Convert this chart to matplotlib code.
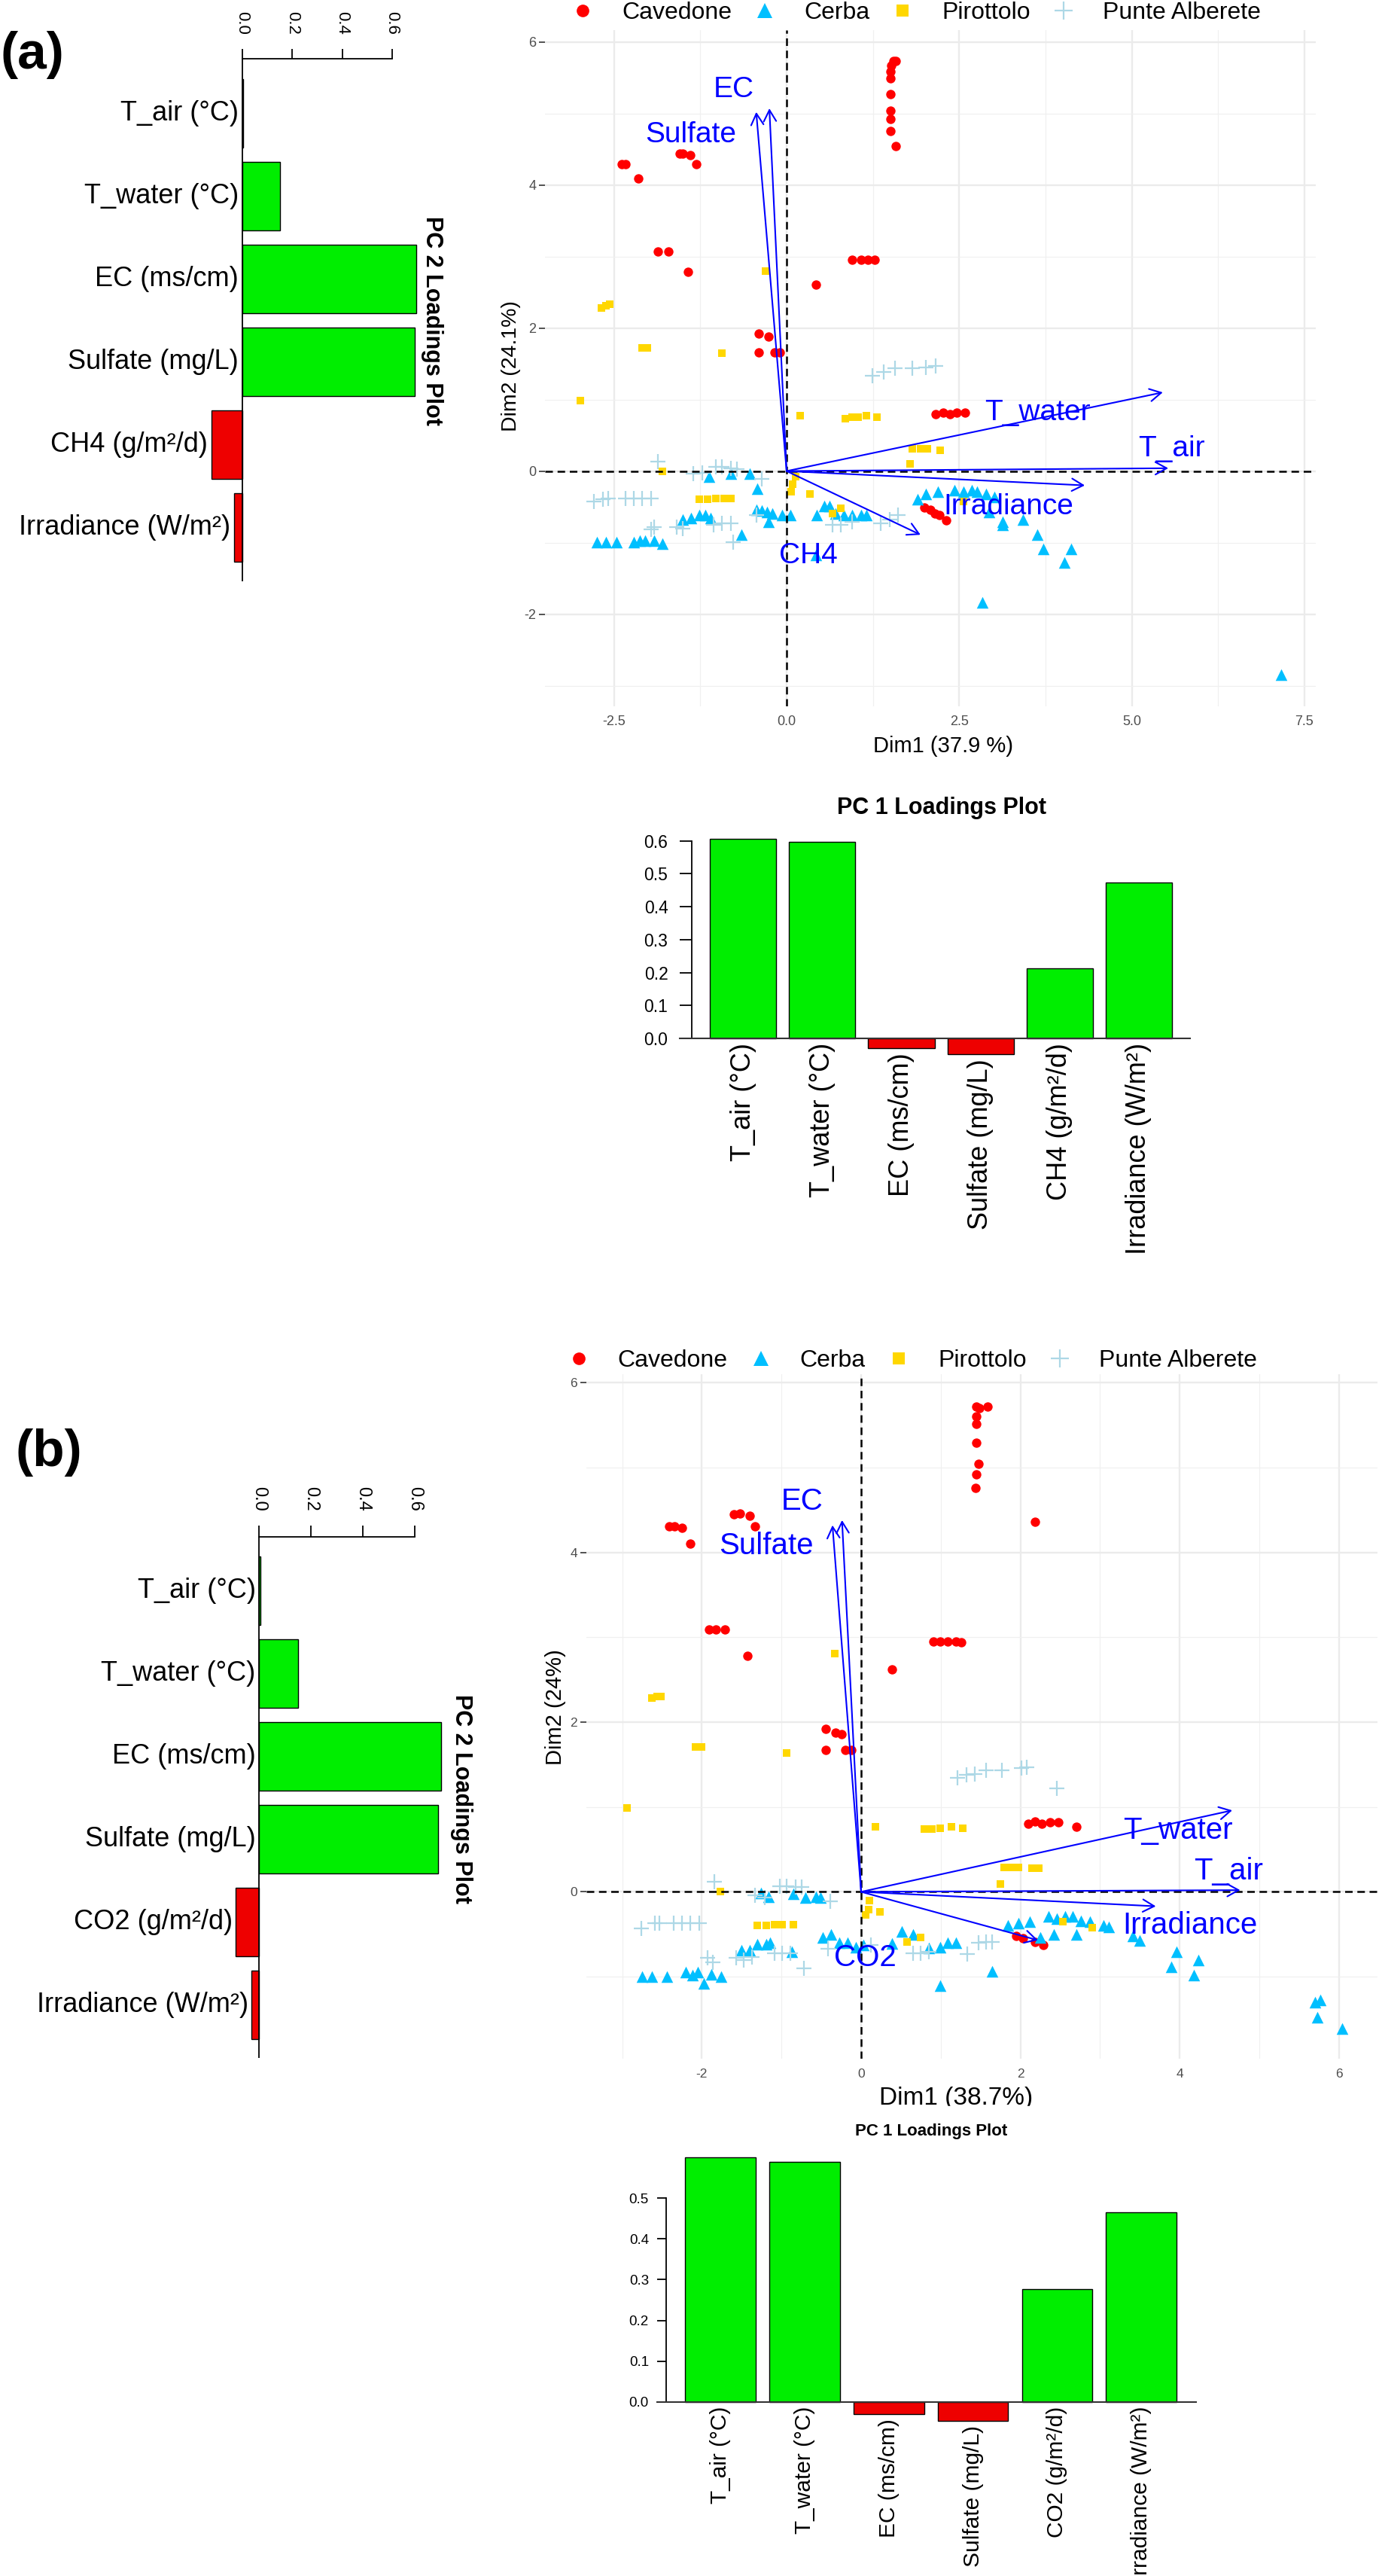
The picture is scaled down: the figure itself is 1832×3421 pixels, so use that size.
import matplotlib
matplotlib.use('Agg')
import matplotlib.pyplot as plt
from matplotlib.lines import Line2D
from matplotlib.patches import Rectangle

plt.rcParams['font.family'] = ['Liberation Sans', 'DejaVu Sans']

W, H = 1832, 3421

# ---------------- data ----------------
vars_a = ['T_air (°C)', 'T_water (°C)', 'EC (ms/cm)', 'Sulfate (mg/L)',
          'CH4 (g/m²/d)', 'Irradiance (W/m²)']
vars_b = ['T_air (°C)', 'T_water (°C)', 'EC (ms/cm)', 'Sulfate (mg/L)',
          'CO2 (g/m²/d)', 'Irradiance (W/m²)']

pc1_a = [0.606, 0.598, -0.029, -0.048, 0.212, 0.474]
pc2_a = [0.004, 0.150, 0.697, 0.689, -0.125, -0.034]
pc1_b = [0.600, 0.588, -0.030, -0.047, 0.276, 0.465]
pc2_b = [0.0065, 0.152, 0.702, 0.690, -0.088, -0.027]

sites = ['Cavedone', 'Cerba', 'Pirottolo', 'Punte Alberete']

# biplot (a) individuals
cav_a_x = [1.55, 1.58, 1.52, 1.51, 1.51, 1.51, 1.50, 1.50, 1.50, 1.58, -2.39, -2.33, -2.15,
           -1.55, -1.50, -1.40, -1.31, -1.87, -1.71, -1.43, 0.42, 0.95, 1.08, 1.18, 1.28,
           -0.40, -0.26, -0.40, -0.17, -0.10, 2.16, 2.27, 2.37, 2.47, 2.58,
           2.00, 2.08, 2.15, 2.21, 2.31]
cav_a_y = [5.73, 5.73, 5.67, 5.59, 5.49, 5.27, 5.04, 4.92, 4.75, 4.54, 4.29, 4.29, 4.09,
           4.44, 4.44, 4.42, 4.29, 3.07, 3.07, 2.78, 2.61, 2.95, 2.95, 2.95, 2.95,
           1.92, 1.88, 1.66, 1.66, 1.66, 0.80, 0.82, 0.80, 0.82, 0.82,
           -0.51, -0.54, -0.59, -0.61, -0.69]
cer_a_x = [-2.75, -2.62, -2.46, -2.21, -2.13, -2.05, -1.92, -1.80, -1.51, -1.39, -1.27, -1.18,
           -1.10, -0.81, -0.53, -1.12, -0.42, -0.44, -0.36, -0.28, -0.21, -0.26, -0.65, -0.07,
           0.05, 0.44, 0.54, 0.62, 0.71, 0.83, 0.95, 1.08, 1.16, 0.42, 1.90, 2.02, 2.19, 2.43,
           2.56, 2.68, 2.76, 2.89, 3.01, 3.13, 3.42, 3.63, 3.72, 4.02, 4.12, 2.83, 7.16,
           2.93, 3.13]
cer_a_y = [-0.99, -0.99, -0.99, -0.99, -0.97, -0.97, -0.97, -1.01, -0.68, -0.66, -0.61, -0.62,
           -0.66, -0.04, -0.04, -0.08, -0.25, -0.54, -0.55, -0.57, -0.59, -0.71, -0.89, -0.62,
           -0.61, -0.61, -0.49, -0.49, -0.59, -0.62, -0.62, -0.61, -0.61, -1.17, -0.39, -0.32,
           -0.29, -0.27, -0.29, -0.27, -0.29, -0.32, -0.36, -0.71, -0.68, -0.89, -1.09, -1.28,
           -1.09, -1.84, -2.85, -0.57, -0.75]
pir_a_x = [-2.99, -2.68, -2.62, -2.56, -2.09, -2.02, -0.94, -0.30, -1.80, -1.27, -1.14, -1.02,
           -0.90, -0.81, 0.20, 0.85, 0.95, 1.04, 1.16, 1.31, 1.82, 1.94, 2.04, 2.23, 1.79,
           0.13, 0.09, 0.07, 0.34, 0.67, 0.79, 2.56]
pir_a_y = [0.99, 2.28, 2.31, 2.33, 1.72, 1.72, 1.65, 2.80, 0.0, -0.39, -0.39, -0.38,
           -0.38, -0.38, 0.77, 0.73, 0.75, 0.75, 0.77, 0.75, 0.31, 0.31, 0.31, 0.29, 0.10,
           -0.08, -0.18, -0.29, -0.32, -0.59, -0.52, -0.43]
pun_a_x = [-1.86, -2.79, -2.66, -2.58, -2.33, -2.21, -2.09, -1.96, -1.92, -1.96, -1.59, -1.51,
           -1.35, -1.22, -1.02, -0.94, -0.81, -0.72, -1.06, -0.94, -0.81, -0.77, -0.36, -0.44,
           0.67, 0.79, 0.95, 1.36, 1.49, 1.61, 1.24, 1.41, 1.57, 1.82, 2.02, 2.16]
pun_a_y = [0.13, -0.43, -0.39, -0.38, -0.38, -0.38, -0.38, -0.38, -0.78, -0.82, -0.78, -0.80,
           -0.04, -0.03, 0.06, 0.06, 0.04, 0.03, -0.75, -0.73, -0.73, -0.99, -0.11, -0.62,
           -0.75, -0.75, -0.71, -0.73, -0.68, -0.61, 1.33, 1.38, 1.44, 1.44, 1.45, 1.47]

# biplot (b) individuals
cav_b_x = [1.45, 1.48, 1.59, 1.45, 1.45, 1.45, 1.47, 1.45, 1.44, 2.18, -2.41, -2.34, -2.25,
           -2.15, -1.60, -1.52, -1.40, -1.33, -1.91, -1.82, -1.71, -1.43, 0.39, 0.91, 0.99,
           1.09, 1.19, 1.26, -0.44, -0.32, -0.25, -0.44, -0.20, -0.12, 2.10, 2.18, 2.27,
           2.37, 2.48, 2.70, 1.95, 2.03, 2.18, 2.29]
cav_b_y = [5.72, 5.70, 5.72, 5.60, 5.51, 5.29, 5.04, 4.92, 4.76, 4.36, 4.31, 4.31, 4.29,
           4.10, 4.45, 4.46, 4.43, 4.31, 3.09, 3.09, 3.09, 2.78, 2.62, 2.95, 2.95,
           2.95, 2.95, 2.94, 1.92, 1.88, 1.86, 1.67, 1.67, 1.67, 0.80, 0.83, 0.80,
           0.82, 0.82, 0.77, -0.52, -0.55, -0.59, -0.63]
cer_b_x = [-2.75, -2.63, -2.44, -2.20, -2.12, -2.05, -1.98, -1.88, -1.76, -1.50, -1.40, -1.30,
           -1.19, -1.14, -1.26, -1.16, -0.85, -0.70, -0.57, -0.51, -0.87, -0.48, -0.38, -0.27,
           -0.17, -0.07, 0.03, 0.39, 0.51, 0.65, 0.85, 0.99, 1.09, 1.19, 0.99, 1.64, 1.84,
           1.98, 2.12, 2.35, 2.46, 2.56, 2.66, 2.76, 2.87, 3.04, 3.11, 2.25, 2.42, 2.70, 3.41,
           3.50, 3.96, 3.89, 4.23, 4.18, 5.70, 5.77, 5.73, 6.04]
cer_b_y = [-1.00, -1.00, -1.00, -0.95, -0.98, -0.95, -1.08, -0.97, -1.00, -0.69, -0.69, -0.62,
           -0.62, -0.60, -0.01, -0.06, -0.02, -0.07, -0.06, -0.07, -0.71, -0.54, -0.50, -0.60,
           -0.60, -0.65, -0.63, -0.61, -0.47, -0.50, -0.66, -0.65, -0.60, -0.60, -1.11, -0.94,
           -0.40, -0.37, -0.35, -0.29, -0.32, -0.29, -0.29, -0.34, -0.35, -0.40, -0.41, -0.54,
           -0.50, -0.50, -0.52, -0.57, -0.71, -0.88, -0.80, -0.98, -1.30, -1.27, -1.48, -1.61]
pir_b_x = [-2.94, -2.63, -2.56, -2.51, -2.08, -2.00, -0.94, -0.33, -1.77, -1.30, -1.19, -1.09,
           -0.99, -0.85, 0.18, 0.79, 0.89, 0.99, 1.13, 1.28, 1.80, 1.89, 1.98, 2.15, 2.23,
           1.75, 0.10, 0.09, 0.06, 0.24, 0.58, 0.75, 2.53, 2.90]
pir_b_y = [0.99, 2.28, 2.30, 2.30, 1.71, 1.71, 1.64, 2.81, 0.0, -0.40, -0.40, -0.39,
           -0.39, -0.39, 0.77, 0.74, 0.74, 0.75, 0.77, 0.75, 0.29, 0.29, 0.29, 0.28, 0.28,
           0.09, -0.10, -0.21, -0.27, -0.24, -0.59, -0.54, -0.35, -0.42]
pun_b_x = [-1.84, -2.76, -2.59, -2.53, -2.35, -2.25, -2.15, -2.03, -1.93, -1.86, -1.57, -1.47,
           -1.37, -1.33, -1.21, -1.02, -0.94, -0.82, -0.75, -1.09, -0.99, -0.89, -0.72, -0.39,
           -0.42, 0.12, 0.65, 0.75, 0.85, 1.33, 1.47, 1.57, 1.64, 1.21, 1.32, 1.43, 1.57,
           1.77, 2.01, 2.08, 2.46]
pun_b_y = [0.12, -0.43, -0.37, -0.37, -0.37, -0.37, -0.37, -0.37, -0.78, -0.83, -0.78, -0.80,
           -0.77, -0.04, -0.07, 0.07, 0.07, 0.06, 0.06, -0.72, -0.72, -0.72, -0.90, -0.11,
           -0.67, -0.63, -0.72, -0.72, -0.71, -0.73, -0.60, -0.59, -0.59, 1.34, 1.38, 1.39,
           1.43, 1.43, 1.46, 1.47, 1.22]

# variable arrows (tips)
arrow_names_a = ['EC', 'Sulfate', 'T_water', 'T_air', 'Irradiance', 'CH4']
arrow_x_a = [-0.25, -0.44, 5.45, 5.53, 4.32, 1.94]
arrow_y_a = [5.07, 5.02, 1.10, 0.04, -0.20, -0.89]
arrow_names_b = ['EC', 'Sulfate', 'T_water', 'T_air', 'Irradiance', 'CO2']
arrow_x_b = [-0.24, -0.36, 4.66, 4.76, 3.70, 2.22]
arrow_y_b = [4.38, 4.32, 0.96, 0.02, -0.17, -0.57]

# where the arrow labels sit (data units)
label_pos_a = [(-0.77, 5.33), (-1.39, 4.70), (3.64, 0.82), (5.58, 0.31), (3.21, -0.50), (0.32, -1.18)]
label_pos_b = [(-0.74, 4.60), (-1.19, 4.08), (3.98, 0.72), (4.61, 0.24), (4.13, -0.40), (0.05, -0.78)]

GREEN = '#00EE00'
RED = '#EE0000'
styles = [dict(marker='o', c='#FF0000', s=80, linewidths=0),
          dict(marker='^', c='#00BFFF', s=125, linewidths=0),
          dict(marker='s', c='#FFD700', s=62, linewidths=0),
          dict(marker='+', c='#ADD8E6', s=210, linewidths=1.6)]
leg_styles = [dict(marker='o', color='#FF0000', markersize=12, markeredgewidth=0),
              dict(marker='^', color='#00BFFF', markersize=14, markeredgewidth=0),
              dict(marker='s', color='#FFD700', markersize=11, markeredgewidth=0),
              dict(marker='+', color='#ADD8E6', markersize=17, markeredgewidth=1.6)]

fig = plt.figure(figsize=(W / 100, H / 100), dpi=100)


def px_axes(x0, y0, x1, y1):
    return fig.add_axes([x0 / W, 1 - y1 / H, (x1 - x0) / W, (y1 - y0) / H])


def ftext(x, y, s, **kw):
    return fig.text(x / W, 1 - y / H, s, **kw)


def pc2_panel(names, vals, zero_x, unit_x, top_y, first_y, step_y, bottom_y,
              tick_len, tick_pad, tick_fs, lab_fs, lab_gap, title_xy):
    xlim = (-0.6, 0.9)
    ax = px_axes(zero_x + xlim[0] * unit_x, top_y, zero_x + xlim[1] * unit_x, bottom_y)
    ax.set_xlim(*xlim)
    ax.set_ylim((bottom_y - first_y) / step_y, (top_y - first_y) / step_y)
    pos = list(range(len(vals)))
    cols = [GREEN if v >= 0 else RED for v in vals]
    ax.barh(pos, vals, height=0.828, color=cols, edgecolor='black', linewidth=1.0, zorder=2)
    ax.axvline(0, color='black', lw=1.3, zorder=3)
    for s in ['left', 'right', 'bottom']:
        ax.spines[s].set_visible(False)
    ax.spines['top'].set_bounds(0, 0.6)
    ax.spines['top'].set_linewidth(1.3)
    ax.xaxis.set_ticks_position('top')
    ax.set_xticks([0, 0.2, 0.4, 0.6])
    ax.set_xticklabels(['0.0', '0.2', '0.4', '0.6'])
    ax.tick_params(axis='x', length=tick_len, width=1.3, pad=tick_pad,
                   labelsize=tick_fs, labelrotation=-90)
    ax.set_yticks([])
    ax.patch.set_alpha(0)
    for i, (n, v) in enumerate(zip(names, vals)):
        ax.text(min(0, v) - lab_gap / unit_x, i, n, ha='right', va='center', fontsize=lab_fs)
    ftext(title_xy[0], title_xy[1], 'PC 2 Loadings Plot', rotation=-90, ha='center',
          va='center', fontsize=22, fontweight='bold')


def pc1_panel(names, vals, first_x, step_x, axis_x, right_x, zero_y, unit_y, ylim,
              line_left_x, top_tick, tick_len, tick_pad, tick_fs, lab_fs, title, title_fs):
    ax = px_axes(axis_x, zero_y - ylim[1] * unit_y, right_x, zero_y - ylim[0] * unit_y)
    ax.set_xlim((axis_x - first_x) / step_x, (right_x - first_x) / step_x)
    ax.set_ylim(*ylim)
    pos = list(range(len(vals)))
    cols = [GREEN if v >= 0 else RED for v in vals]
    ax.bar(pos, vals, width=0.838, color=cols, edgecolor='black', linewidth=1.0, zorder=2)
    ax.plot([(line_left_x - first_x) / step_x, (right_x - first_x) / step_x], [0, 0],
            color='#333333', lw=1.5, clip_on=False, zorder=3)
    for s in ['top', 'right', 'bottom']:
        ax.spines[s].set_visible(False)
    ax.spines['left'].set_bounds(0, top_tick)
    ax.spines['left'].set_linewidth(1.3)
    ticks = [round(0.1 * k, 1) for k in range(int(round(top_tick * 10)) + 1)]
    ax.set_yticks(ticks)
    ax.set_yticklabels(['%.1f' % t for t in ticks])
    ax.tick_params(axis='y', length=tick_len, width=1.3, pad=tick_pad, labelsize=tick_fs)
    ax.set_xticks([])
    ax.patch.set_alpha(0)
    for i, (n, v) in enumerate(zip(names, vals)):
        ax.text(i, min(0, v) - 6 / unit_y, n, rotation=90, ha='center', va='top', fontsize=lab_fs)
    ftext(title[1], title[2], title[0], ha='center', va='center', fontsize=title_fs,
          fontweight='bold')


def biplot(ox, oy, ux, uy, xlim, ylim, xmaj, xmin, ymaj, ymin, xlabels, series,
           anames, ax_x, ax_y, lab_pos, lab_fs, tick_fs, legend_xy):
    ax = px_axes(ox + xlim[0] * ux, oy - ylim[1] * uy, ox + xlim[1] * ux, oy - ylim[0] * uy)
    ax.set_xlim(*xlim)
    ax.set_ylim(*ylim)
    ax.set_xticks(xmaj)
    ax.set_xticklabels(xlabels)
    ax.set_xticks(xmin, minor=True)
    ax.set_yticks(ymaj)
    ax.set_yticklabels(['%g' % v for v in ymaj])
    ax.set_yticks(ymin, minor=True)
    ax.grid(which='major', color='#EBEBEB', lw=1.7)
    ax.grid(which='minor', color='#F0F0F0', lw=0.9)
    ax.set_axisbelow(True)
    for s in ax.spines.values():
        s.set_visible(False)
    ax.tick_params(axis='x', which='both', length=0, pad=9, labelsize=tick_fs, labelcolor='#4D4D4D')
    ax.tick_params(axis='y', which='major', length=5.5, width=1.2, color='#333333', pad=3,
                   labelsize=tick_fs, labelcolor='#4D4D4D')
    ax.tick_params(axis='y', which='minor', length=0)
    for (xs, ys), st in zip(series, styles):
        ax.scatter(xs, ys, zorder=3, **st)
    ax.axhline(0, color='black', lw=1.8, dashes=(4, 2.5), zorder=4)
    ax.axvline(0, color='black', lw=1.8, dashes=(4, 2.5), zorder=4)
    for n, x, y, p in zip(anames, ax_x, ax_y, lab_pos):
        ax.annotate('', xy=(x, y), xytext=(0, 0),
                    arrowprops=dict(arrowstyle='->,head_length=0.4,head_width=0.22',
                                    color='#0000FF', lw=1.5, mutation_scale=27,
                                    shrinkA=0, shrinkB=0), zorder=5)
        ax.text(p[0], p[1], n, color='#0000FF', fontsize=lab_fs, ha='center', va='center', zorder=6)
    handles = [Line2D([], [], ls='none', **st) for st in leg_styles]
    fig.legend(handles, sites, loc='center left', ncol=4, frameon=False, fontsize=23,
               bbox_to_anchor=(legend_xy[0] / W, 1 - legend_xy[1] / H),
               bbox_transform=fig.transFigure, borderpad=0, borderaxespad=0,
               handlelength=1.0, handletextpad=1.13, columnspacing=0.88)
    return ax


# ---------------- panel (a) ----------------
ftext(0, 73, '(a)', ha='left', va='center', fontsize=50, fontweight='bold')

pc2_panel(vars_a, pc2_a, zero_x=322, unit_x=331.7, top_y=78, first_y=150.5, step_y=110,
          bottom_y=772, tick_len=9.4, tick_pad=14, tick_fs=16, lab_fs=26, lab_gap=5,
          title_xy=(574, 426))

biplot(1045, 625.6, 91.7, 95.0, (-3.50, 7.67), (-3.288, 6.164),
       [-2.5, 0, 2.5, 5.0, 7.5], [-1.25, 1.25, 3.75, 6.25], [-2, 0, 2, 4, 6], [-3, -1, 1, 3, 5],
       ['-2.5', '0.0', '2.5', '5.0', '7.5'],
       [(cav_a_x, cav_a_y), (cer_a_x, cer_a_y), (pir_a_x, pir_a_y), (pun_a_x, pun_a_y)],
       arrow_names_a, arrow_x_a, arrow_y_a, label_pos_a, lab_fs=28, tick_fs=13,
       legend_xy=(758, 17))
ftext(1253, 991, 'Dim1 (37.9 %)', ha='center', va='center', fontsize=21)
ftext(679, 486, 'Dim2 (24.1%)', rotation=90, ha='center', va='center', fontsize=20.5)

pc1_panel(vars_a, pc1_a, first_x=987.4, step_x=105.06, axis_x=919.4, right_x=1580.7,
          zero_y=1379.2, unit_y=437.5, ylim=(-0.1, 0.65), line_left_x=903, top_tick=0.6,
          tick_len=11.5, tick_pad=11.5, tick_fs=16.5, lab_fs=26,
          title=('PC 1 Loadings Plot', 1250.6, 1072.8), title_fs=22)

# ---------------- panel (b) ----------------
ftext(20, 1929, '(b)', ha='left', va='center', fontsize=50, fontweight='bold')

pc2_panel(vars_b, pc2_b, zero_x=343.75, unit_x=345.4, top_y=2041, first_y=2112.9,
          step_y=109.9, bottom_y=2732.8, tick_len=11, tick_pad=13.3, tick_fs=17, lab_fs=26,
          lab_gap=4, title_xy=(612.5, 2389))

biplot(1144, 2512.4, 105.8, 112.7, (-3.45, 6.48), (-1.97, 6.1),
       [-2, 0, 2, 4, 6], [-3, -1, 1, 3, 5], [0, 2, 4, 6], [-1, 1, 3, 5],
       ['-2', '0', '2', '4', '6'],
       [(cav_b_x, cav_b_y), (cer_b_x, cer_b_y), (pir_b_x, pir_b_y), (pun_b_x, pun_b_y)],
       arrow_names_b, arrow_x_b, arrow_y_b, label_pos_b, lab_fs=29, tick_fs=12.5,
       legend_xy=(752.6, 1806.7))
ftext(1270, 2786.7, 'Dim1 (38.7%)', ha='center', va='center', fontsize=24)
ftext(737.5, 2267.5, 'Dim2 (24%)', rotation=90, ha='center', va='center', fontsize=21)
# the lower plot covers the bottom of the Dim1 label in the original
fig.add_artist(Rectangle((1100 / W, 1 - 2818 / H), 350 / W, 21 / H,
                         transform=fig.transFigure, color='white', zorder=10))

pc1_panel(vars_b, pc1_b, first_x=957.2, step_x=111.8, axis_x=884.8, right_x=1589,
          zero_y=3190, unit_y=542, ylim=(-0.1, 0.62), line_left_x=873, top_tick=0.5,
          tick_len=8.3, tick_pad=8.2, tick_fs=13.5, lab_fs=21.5,
          title=('PC 1 Loadings Plot', 1237, 2830.2), title_fs=16)

fig.savefig('out.png', dpi=100)
